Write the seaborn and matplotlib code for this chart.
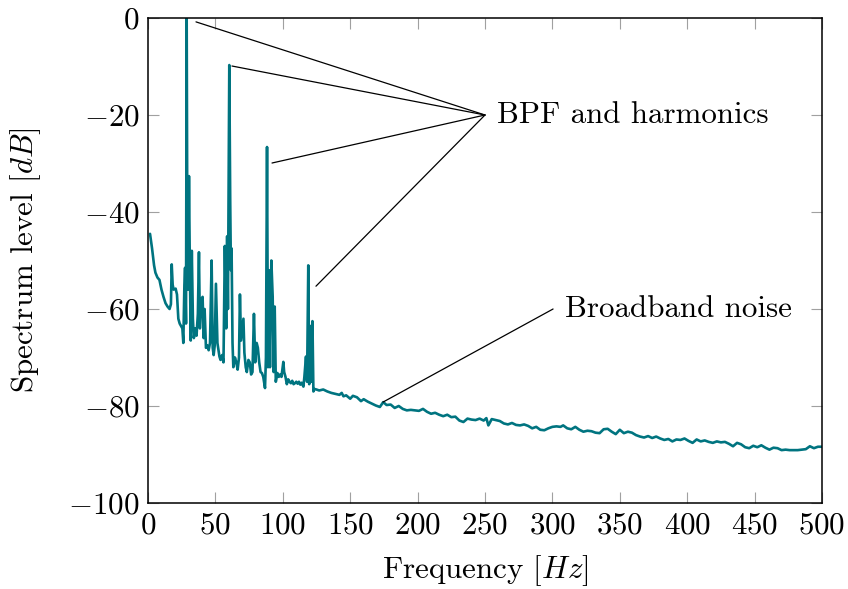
import matplotlib
matplotlib.use("Agg")
import matplotlib.pyplot as plt
import seaborn as sns
import pandas as pd

# ---- data: low-frequency region (tonal peaks) ----
freq_low = [1.5, 3, 4.5, 5.5, 7, 8.5, 10, 11.5, 13, 14.5, 16, 17, 17.6, 18.3, 19, 20.5, 21.5,
            22.5, 23.5, 24.5, 25.5, 26.2, 27, 27.5, 28.2, 28.7, 29.2, 29.8, 30.4, 31, 31.7,
            32.5, 33.3, 34, 35, 36, 37, 37.8, 38.5, 39.5, 40.5, 41.3, 42, 43, 44, 45, 46,
            47.2, 48, 48.7, 49.5, 50.4, 51.5, 53, 53.8, 55, 56, 57, 58, 58.7, 59.3, 60.3,
            61, 61.5, 62, 62.7, 63.3, 64.5, 65.5, 66.5, 67.5, 68.2, 69, 70, 70.8, 71.5,
            72.5, 73.3, 74.5, 75.5, 76.5, 77.5, 78.6, 79.5, 80.6, 81.5, 82.5, 83.5, 84.5,
            85.5, 86.8, 87.5, 88.3, 89, 89.7, 90.5, 91.5, 92.5, 93.2, 94, 94.8, 96, 97, 98,
            99, 100.4, 101, 102, 103, 104, 105, 106, 107, 108, 109, 110, 111, 112, 113,
            114, 115.3, 116, 117.2, 118, 118.9, 119.6, 120.5, 121.2, 122, 122.7, 123.5, 125]
level_low = [-44.5, -47.5, -51, -52.5, -53.5, -54, -56, -57.5, -58.8, -59.5, -60, -59, -50.8,
             -55, -56, -55.8, -57, -62, -63, -63.5, -64, -67, -55, -51.5, -63, 0, -47, -56,
             -32.6, -50, -66.5, -48, -62, -66, -64, -65.5, -61, -48.3, -64, -58, -57.5, -66,
             -60, -68, -67.5, -68.5, -67, -50, -68, -69.5, -67.5, -54.8, -67, -69.8, -70.5,
             -69.5, -71, -47, -64, -45, -60, -9.7, -38, -52, -47.5, -67, -72, -70, -71,
             -72.5, -70, -57, -66.5, -64, -62, -69, -72, -73, -70.5, -71, -73.5, -73, -61,
             -71, -67, -68, -71, -73, -73.2, -74, -76.3, -70, -26.6, -72, -52, -72, -50,
             -57.5, -73, -59.5, -75, -73.2, -74, -73.5, -74, -70.9, -73, -74, -75.5, -74.5,
             -75, -75.3, -74.8, -75.5, -75.3, -75, -75.4, -75, -75.6, -75.2, -76, -74,
             -69.8, -75, -51, -75.5, -63.5, -75, -62.5, -77, -76.5, -76.6]

# ---- data: broadband region ----
freq_high = [127, 130, 133, 136, 139, 142, 143.7, 145, 147, 150, 152, 155, 158, 160, 163, 166,
             169, 172, 174.5, 177, 180, 183, 186, 189, 192, 195, 198, 201, 204, 207, 210, 213,
             216, 219, 222, 225, 228, 231, 234, 237, 240, 243, 246, 249, 251, 252.5, 255, 258,
             261, 264, 267, 270, 273, 276, 279, 282, 285, 288, 291, 294, 297, 300, 303, 306,
             308, 311, 314, 317, 320, 323, 326, 329, 332, 335, 338, 341, 344, 347, 350, 353,
             356, 359, 362, 365, 368, 371, 374, 377, 380, 383, 386, 389, 392, 395, 398, 401,
             404, 407, 410, 413, 416, 419, 422, 425, 428, 431, 434, 437, 440, 443, 446, 449,
             452, 455, 458, 461, 464, 467, 470, 473, 476, 479, 482, 485, 488, 491, 494, 497, 500]
level_high = [-76.8, -76.6, -77, -77.3, -77.5, -77.7, -77.3, -78, -77.8, -78.5, -77.9, -78.2,
              -79, -78.6, -79.1, -79.5, -79.9, -80.2, -79.2, -79.8, -79.7, -80.4, -80, -80.6,
              -80.9, -80.8, -80.9, -81, -80.6, -81.2, -81.6, -81.4, -81.8, -82.1, -81.8, -82.3,
              -82.2, -83, -83.3, -82.6, -82.8, -82.9, -82.6, -83, -82.5, -84, -82.7, -82.9,
              -83.1, -83.6, -83.8, -83.5, -83.9, -84, -83.8, -84.1, -84.6, -84.3, -84.9, -85,
              -84.6, -84.3, -84.2, -84.3, -84, -84.6, -84.8, -84.3, -84.9, -85.3, -85.1, -85.2,
              -85.5, -85.6, -84.8, -84.7, -85.3, -85.8, -84.9, -85.6, -85.3, -85.5, -86, -86.3,
              -86.5, -86.2, -86.6, -86.3, -86.7, -87, -86.8, -87.3, -86.9, -87, -86.7, -87.2,
              -87.6, -86.9, -87.3, -87.1, -87.4, -87.6, -87.3, -87.5, -87.4, -87.8, -88.3,
              -87.6, -87.9, -88.5, -88.7, -88.2, -88.5, -88.1, -88.6, -89, -88.6, -88.7, -89.1,
              -89, -89.1, -89.1, -89.1, -89, -88.9, -88.3, -88.7, -88.4, -88.4]

x_ticks = [0, 50, 100, 150, 200, 250, 300, 350, 400, 450, 500]
y_ticks = [-100, -80, -60, -40, -20, 0]

bpf_label = "BPF and harmonics"
bpf_anchor = (250, -20)
bpf_targets = [(35.6, -0.8), (62.3, -9.9), (92, -29.9), (124.6, -55.3)]
bb_label = "Broadband noise"
bb_anchor = (300.5, -60)
bb_target = (174.3, -79.2)

df = pd.DataFrame({"freq": freq_low + freq_high, "level": level_low + level_high})

sns.set_style("ticks")
plt.rcParams["font.family"] = ["cmr10", "DejaVu Serif"]
plt.rcParams["mathtext.fontset"] = "cm"
plt.rcParams["axes.formatter.use_mathtext"] = True
plt.rcParams["axes.unicode_minus"] = True
plt.rcParams["text.color"] = "black"
plt.rcParams["axes.labelcolor"] = "black"
plt.rcParams["xtick.labelcolor"] = "black"
plt.rcParams["ytick.labelcolor"] = "black"

FS = 22.3

fig = plt.figure(figsize=(8.48, 5.89), dpi=100)
ax = fig.add_axes([148 / 848, 1 - 503 / 589, 674 / 848, 485 / 589])

sns.lineplot(data=df, x="freq", y="level", ax=ax, color="#007480", linewidth=1.9,
             sort=False, estimator=None)

ax.set_xlim(0, 500)
ax.set_ylim(-100, 0)
ax.set_xticks(x_ticks)
ax.set_yticks(y_ticks)
ax.set_xlabel("Frequency $[Hz]$", fontsize=FS, labelpad=10, color="black")
ax.set_ylabel("Spectrum level $[dB]$", fontsize=FS, labelpad=18, color="black")
ax.tick_params(direction="in", length=8, width=0.8, color="#a0a0a0", labelsize=FS,
               labelcolor="black", top=True, right=True, pad=6)
for s in ax.spines.values():
    s.set_visible(True)
    s.set_linewidth(1.1)
    s.set_color("black")

for tx, ty in bpf_targets:
    ax.plot([bpf_anchor[0], tx], [bpf_anchor[1], ty], color="black", lw=0.9, clip_on=False)
ax.text(bpf_anchor[0] + 9, bpf_anchor[1], bpf_label, fontsize=FS, va="center", ha="left",
        color="black")
ax.plot([bb_anchor[0], bb_target[0]], [bb_anchor[1], bb_target[1]], color="black", lw=0.9)
ax.text(bb_anchor[0] + 9, bb_anchor[1], bb_label, fontsize=FS, va="center", ha="left",
        color="black")

fig.savefig("out.png", dpi=100)
